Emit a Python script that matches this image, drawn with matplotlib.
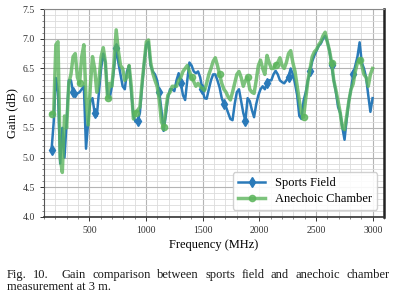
import numpy as np
import matplotlib
matplotlib.use('Agg')
import matplotlib.pyplot as plt
from matplotlib.ticker import MultipleLocator, FormatStrFormatter

# sample frequencies (MHz), 19 MHz step
freq = np.arange(167, 3000, 19)

sports_field = [
    5.13, 5.60, 6.34, 6.10, 4.90, 5.50, 5.00, 5.60, 6.30, 6.30,
    6.10, 6.02, 6.08, 6.10, 6.15, 6.20, 5.15, 5.60, 5.95, 6.00,
    5.75, 5.70, 6.10, 6.50, 6.75, 6.60, 6.05, 6.00, 6.20, 6.50,
    6.85, 6.60, 6.40, 6.20, 6.15, 6.45, 6.55, 6.10, 5.70, 5.60,
    5.62, 5.75, 6.20, 6.60, 6.90, 6.95, 6.55, 6.45, 6.40, 6.30,
    6.10, 5.80, 5.45, 5.70, 6.00, 6.15, 6.15, 6.12, 6.30, 6.42,
    6.25, 6.05, 5.97, 6.30, 6.60, 6.55, 6.45, 6.42, 6.45, 6.35,
    6.15, 6.00, 5.99, 6.15, 6.30, 6.40, 6.40, 6.30, 6.18, 6.00,
    5.90, 5.85, 5.75, 5.65, 5.63, 5.90, 6.10, 6.15, 5.95, 5.75,
    5.62, 6.00, 5.95, 5.80, 5.68, 5.90, 6.05, 6.15, 6.20, 6.15,
    6.25, 6.30, 6.30, 6.40, 6.46, 6.40, 6.30, 6.27, 6.25, 6.30,
    6.36, 6.50, 6.40, 6.25, 6.05, 5.70, 5.65, 5.96, 6.10, 6.30,
    6.45, 6.62, 6.72, 6.80, 6.88, 6.92, 7.00, 7.05, 6.95, 6.80,
    6.55, 6.30, 6.10, 5.85, 5.75, 5.50, 5.30, 5.65, 5.95, 6.15,
    6.40, 6.55, 6.70, 6.94, 6.60, 6.50, 6.35, 6.05, 5.77, 6.00,
]

anechoic_chamber = [
    5.74, 5.75, 6.90, 6.95, 5.00, 4.75, 5.70, 5.50, 6.25, 6.40,
    6.70, 6.75, 6.35, 6.25, 6.70, 6.90, 6.00, 5.55, 6.20, 6.70,
    6.50, 6.10, 6.30, 6.70, 6.85, 6.60, 6.00, 6.25, 6.20, 6.60,
    7.15, 6.80, 6.55, 6.50, 6.30, 6.35, 6.55, 6.20, 5.65, 5.75,
    5.80, 5.85, 6.25, 6.60, 6.95, 6.98, 6.60, 6.42, 6.30, 6.20,
    5.97, 5.60, 5.52, 5.80, 6.05, 6.10, 6.20, 6.20, 6.20, 6.30,
    6.35, 6.45, 6.50, 6.55, 6.45, 6.35, 6.28, 6.20, 6.25, 6.20,
    6.16, 6.13, 6.25, 6.40, 6.50, 6.62, 6.68, 6.55, 6.40, 6.25,
    6.15, 6.10, 6.02, 5.97, 6.10, 6.25, 6.40, 6.45, 6.35, 6.20,
    6.30, 6.35, 6.15, 6.10, 6.08, 6.30, 6.55, 6.64, 6.50, 6.40,
    6.72, 6.60, 6.50, 6.50, 6.56, 6.60, 6.68, 6.55, 6.50, 6.60,
    6.75, 6.80, 6.60, 6.45, 6.20, 5.96, 5.75, 5.68, 6.00, 6.30,
    6.50, 6.70, 6.78, 6.82, 6.90, 6.95, 7.05, 7.11, 6.95, 6.80,
    6.60, 6.30, 6.13, 5.95, 5.75, 5.50, 5.47, 5.70, 5.95, 6.15,
    6.24, 6.45, 6.60, 6.64, 6.55, 6.40, 6.35, 6.20, 6.40, 6.50,
]

plt.rcParams['font.family'] = ['Liberation Serif', 'DejaVu Serif']

W, H = 396, 302
fig = plt.figure(figsize=(W / 100, H / 100), dpi=100)
ax = fig.add_axes([0.111, 0.2815, 0.859, 0.6885])

ax.plot(freq, sports_field, color='#2a7ab9', lw=1.8, marker='d', ms=5,
        markevery=10, label='Sports Field', zorder=3)
ax.plot(freq, anechoic_chamber, color='#5cb55c', lw=2.5, alpha=0.8, marker='o', ms=4.5,
        markevery=13, label='Anechoic Chamber', zorder=4)

ax.set_xlim(100, 3100)
ax.set_ylim(4.0, 7.5)
ax.xaxis.set_major_locator(MultipleLocator(500))
ax.xaxis.set_minor_locator(MultipleLocator(100))
ax.yaxis.set_major_locator(MultipleLocator(0.5))
ax.yaxis.set_minor_locator(MultipleLocator(0.1))
ax.yaxis.set_major_formatter(FormatStrFormatter('%.1f'))
ax.set_xticks([500, 1000, 1500, 2000, 2500, 3000])

ax.grid(which='major', color='#b4b4b4', lw=0.8)
ax.grid(which='minor', color='#dcdcdc', lw=0.6)
ax.set_axisbelow(True)

ax.tick_params(which='major', labelsize=7, length=3, width=0.7, colors='#333333')
ax.tick_params(which='minor', length=1.6, width=0.5, colors='#555555')

ax.spines['left'].set_color('#555555'); ax.spines['left'].set_linewidth(0.8)
ax.spines['top'].set_color('#888888'); ax.spines['top'].set_linewidth(0.8)
ax.spines['bottom'].set_color('#333333'); ax.spines['bottom'].set_linewidth(1.2)
ax.spines['right'].set_color('#222222'); ax.spines['right'].set_linewidth(1.8)

ax.set_xlabel('Frequency (MHz)', fontsize=9, labelpad=3)
ax.set_ylabel('Gain (dB)', fontsize=9, labelpad=3)

leg = ax.legend(loc='lower right', fontsize=9, frameon=True, fancybox=True,
                framealpha=0.9, edgecolor='#cccccc', handlelength=2.2,
                borderpad=0.4, labelspacing=0.3, borderaxespad=0,
                bbox_to_anchor=(0.98, 0.034))

# caption: first line justified (word by word), second line plain
cap_fs = 9
cap_col = '#1a1a1a'
line1 = ['Fig.', '10.', 'Gain', 'comparison', 'between', 'sports', 'field',
         'and', 'anechoic', 'chamber']
left_x, gain_x, right_edge = 6.5, 61.7, 389.5
base1, base2 = 278, 290

renderer = fig.canvas.get_renderer()
texts = [fig.text(0, 1 - base1 / H, w, fontsize=cap_fs, color=cap_col,
                  ha='left', va='baseline') for w in line1]
widths = [t.get_window_extent(renderer).width for t in texts]

rest = list(range(2, len(line1)))
gap = (right_edge - gain_x - sum(widths[i] for i in rest)) / (len(rest) - 1)
xs = [left_x, left_x + widths[0] + gap]
x = gain_x
for i in rest:
    xs.append(x)
    x += widths[i] + gap
for t, xp in zip(texts, xs):
    t.set_x(xp / W)

fig.text(left_x / W, 1 - base2 / H, 'measurement at 3 m.', fontsize=cap_fs,
         color=cap_col, ha='left', va='baseline')

fig.savefig('out.png', dpi=100)
